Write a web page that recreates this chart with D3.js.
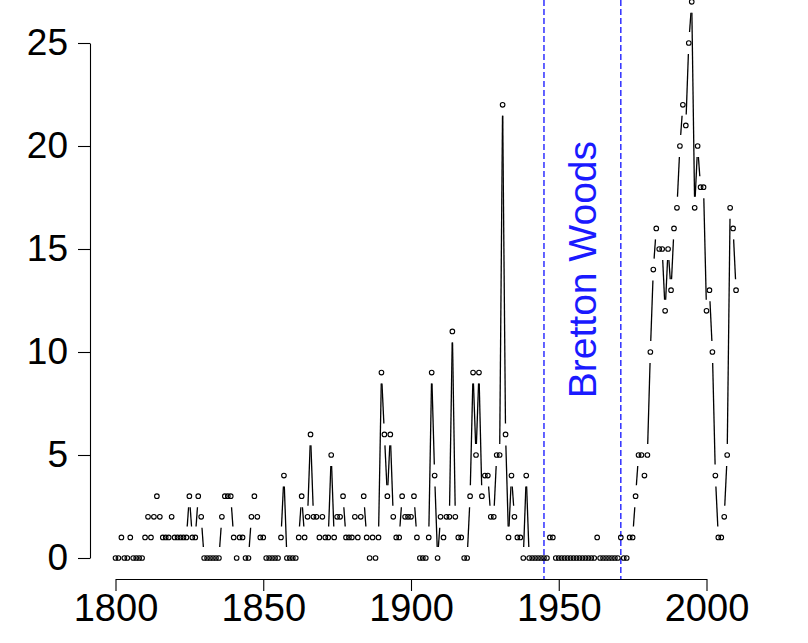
<!DOCTYPE html>
<html><head><meta charset="utf-8">
<script src="https://cdn.jsdelivr.net/npm/d3@7/dist/d3.min.js"></script>
<style>body{margin:0;background:#fff;} svg{display:block;}</style>
</head><body>
<script>
// ---- data ----
const startYear = 1800;
const counts = [
  0,0,1,0,0,1,0,0,0,0,          // 1800s
  1,2,1,2,3,2,1,1,1,2,          // 1810s
  1,1,1,1,1,3,1,1,3,2,          // 1820s
  0,0,0,0,0,0,2,3,3,3,          // 1830s
  1,0,1,1,0,0,2,3,2,1,          // 1840s
  1,0,0,0,0,0,1,4,0,0,          // 1850s
  0,0,1,3,1,2,6,2,2,1,          // 1860s
  2,1,1,5,1,2,2,3,1,1,          // 1870s
  1,2,1,2,3,1,0,1,0,1,          // 1880s
  9,6,3,6,2,1,1,3,2,2,          // 1890s
  2,3,1,0,0,0,1,9,4,0,          // 1900s
  2,1,2,2,11,2,1,1,0,0,         // 1910s
  3,9,5,9,3,4,4,2,2,5,          // 1920s
  5,22,6,1,4,2,1,1,0,4,         // 1930s
  0,0,0,0,0,0,0,1,1,0,          // 1940s
  0,0,0,0,0,0,0,0,0,0,          // 1950s
  0,0,0,1,0,0,0,0,0,0,          // 1960s
  0,1,0,0,1,1,3,5,5,4,          // 1970s
  5,10,14,16,15,15,12,15,13,16, // 1980s
  17,20,22,21,25,27,17,20,18,18,// 1990s
  12,13,10,4,1,1,2,5,17,16,     // 2000s
  13                            // 2010
];
const yTicks = [0, 5, 10, 15, 20, 25];
const xTicks = [1800, 1850, 1900, 1950, 2000];
const markerYears = [1945, 1971];
const markerLabel = "Bretton Woods";

// ---- layout ----
const W = 808, H = 643;
const x = d3.scaleLinear().domain([1800, 2000]).range([115.5, 706.5]);
const y = d3.scaleLinear().domain([0, 25]).range([558, 43]);
const plotBottom = 579, axisLeftX = 90;

const svg = d3.select("body").append("svg").attr("width", W).attr("height", H)
  .style("font-family", "'Liberation Sans', Arial, Helvetica, sans-serif");

// y axis
const gy = svg.append("g").attr("transform", `translate(${axisLeftX},0)`)
  .call(d3.axisLeft(y).tickValues(yTicks).tickFormat(d3.format("d")).tickSize(12).tickSizeOuter(0).tickPadding(10));
gy.selectAll("text").attr("font-size", 37).attr("fill", "#000").attr("font-family", "'Liberation Sans', Arial, sans-serif");
gy.selectAll("line, path").attr("stroke", "#000").attr("stroke-width", 1.1);

// x axis
const gx = svg.append("g").attr("transform", `translate(0,${plotBottom})`)
  .call(d3.axisBottom(x).tickValues(xTicks).tickFormat(d3.format("d")).tickSize(12).tickSizeOuter(0).tickPadding(3));
gx.selectAll("text").attr("font-size", 38).attr("fill", "#000").attr("font-family", "'Liberation Sans', Arial, sans-serif");
gx.selectAll("line, path").attr("stroke", "#000").attr("stroke-width", 1.1);

// Bretton Woods markers
svg.selectAll("line.bw").data(markerYears).join("line").attr("class", "bw")
  .attr("x1", d => x(d)).attr("x2", d => x(d))
  .attr("y1", 0).attr("y2", plotBottom)
  .attr("stroke", "#3030ff").attr("stroke-width", 1.5).attr("stroke-dasharray", "6,3");

const midYear = (markerYears[0] + markerYears[1]) / 2;
svg.append("text")
  .attr("transform", `translate(${x(midYear) + 14},${y(14)}) rotate(-90)`)
  .attr("text-anchor", "middle")
  .attr("font-size", 39).attr("fill", "#1a1aff")
  .text(markerLabel);

// data: R-style type "b" (points with gapped lines)
const pts = counts.map((v, i) => ({ year: startYear + i, v, px: x(startYear + i), py: y(v) }));
const gap = 11;
const segs = [];
for (let i = 0; i < pts.length - 1; i++) {
  const a = pts[i], b = pts[i + 1];
  const dx = b.px - a.px, dy = b.py - a.py, d = Math.hypot(dx, dy);
  if (d > 2 * gap) {
    const ux = dx / d, uy = dy / d;
    segs.push({ x1: a.px + ux * gap, y1: a.py + uy * gap, x2: b.px - ux * gap, y2: b.py - uy * gap });
  }
}
svg.append("g").selectAll("line").data(segs).join("line")
  .attr("x1", d => d.x1).attr("y1", d => d.y1).attr("x2", d => d.x2).attr("y2", d => d.y2)
  .attr("stroke", "#000").attr("stroke-width", 1.3);

svg.append("g").selectAll("circle").data(pts).join("circle")
  .attr("cx", d => d.px).attr("cy", d => d.py).attr("r", 2.3)
  .attr("fill", "none").attr("stroke", "#000").attr("stroke-width", 1.1);
</script>
</body></html>
